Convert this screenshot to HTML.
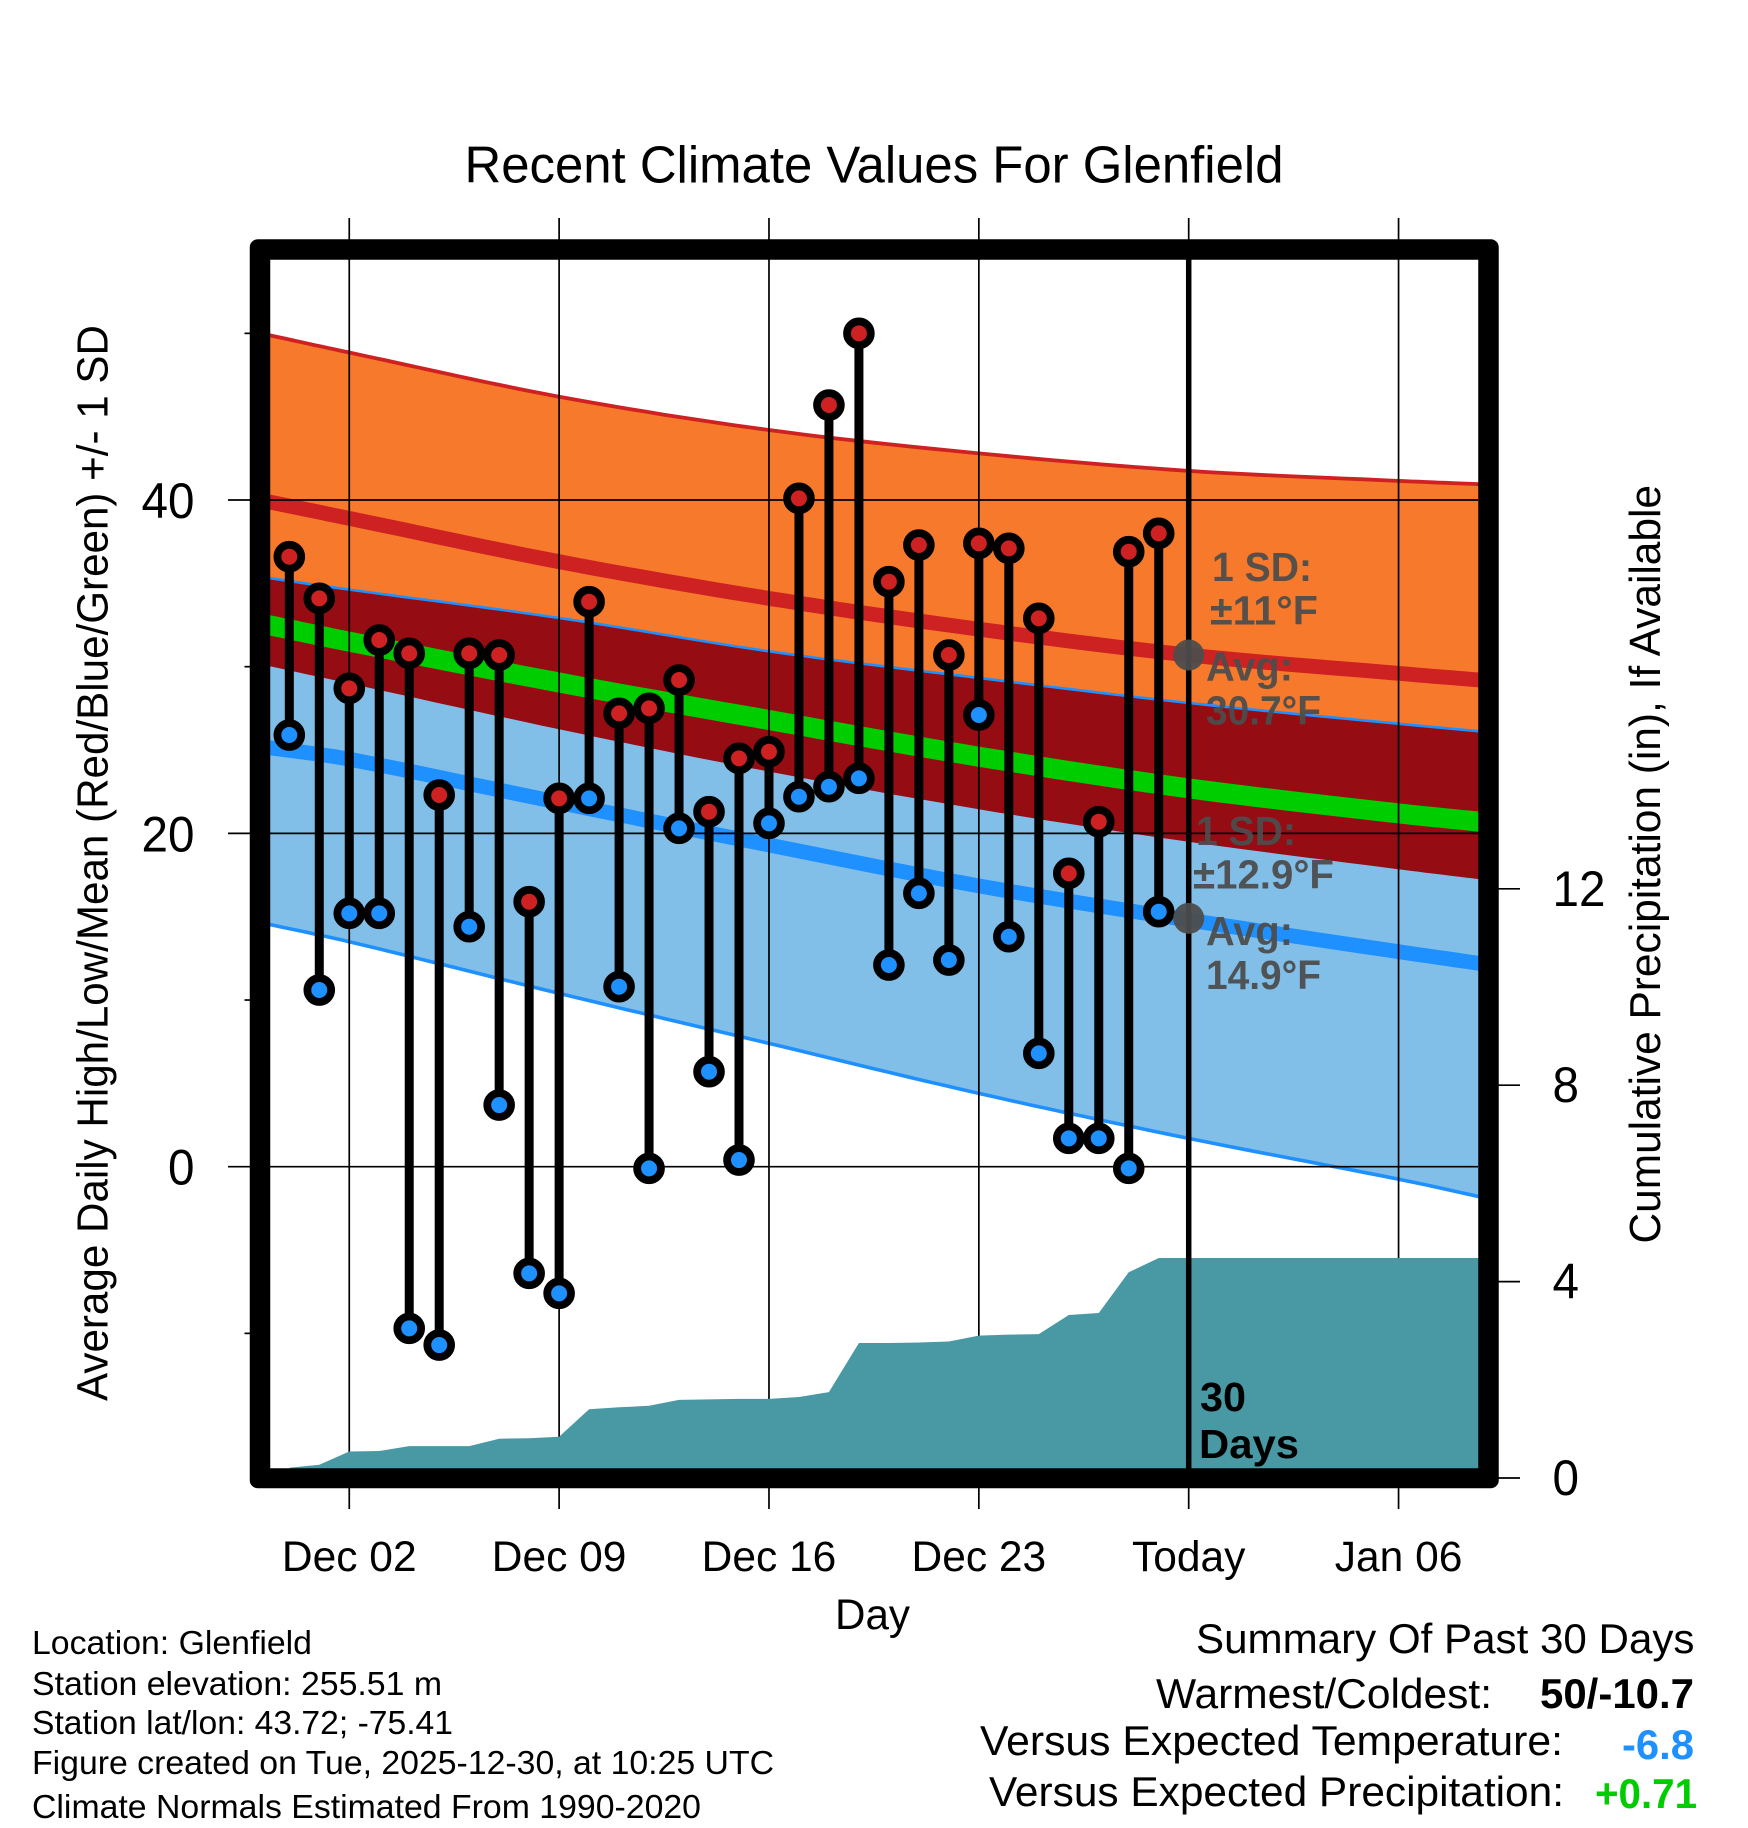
<!DOCTYPE html>
<html lang="en">
<head>
<meta charset="utf-8">
<title>Recent Climate Values For Glenfield</title>
<style>
html,body{margin:0;padding:0;background:#fff;}
svg{display:block;}
text{font-family:"Liberation Sans",Arial,sans-serif;fill:#000;}
.b{font-weight:bold;}
.g{font-weight:bold;fill:#4d4d4d;font-size:41px;fill-opacity:.94;}
</style>
</head>
<body>
<svg id="chart" xmlns="http://www.w3.org/2000/svg" width="1748" height="1828" viewBox="0 0 1748 1828">
  <rect x="0" y="0" width="1748" height="1828" fill="#fff"/>
  <g id="marks"></g>

  <path fill="#000" fill-rule="evenodd" d="M257.75,239.25 H1490.75 A8 8 0 0 1 1498.75,247.25 V1480.25 A8 8 0 0 1 1490.75,1488.25 H257.75 A8 8 0 0 1 249.75,1480.25 V247.25 A8 8 0 0 1 257.75,239.25 Z M270.25,259.75 V1468.25 H1478.25 V259.75 Z"/>

  <g id="axes"></g>

  <text x="464.5" y="182.5" font-size="52" textLength="819" lengthAdjust="spacingAndGlyphs">Recent Climate Values For Glenfield</text>
  <text transform="translate(107.5,1401) rotate(-90)" font-size="44" textLength="1076" lengthAdjust="spacingAndGlyphs">Average Daily High/Low/Mean (Red/Blue/Green) +/- 1 SD</text>
  <text transform="translate(1660,1243.5) rotate(-90)" font-size="44" textLength="758.5" lengthAdjust="spacingAndGlyphs">Cumulative Precipitation (in), If Available</text>
  <text x="835" y="1629" font-size="43" textLength="75" lengthAdjust="spacingAndGlyphs">Day</text>

  <text class="g" x="1212" y="581" textLength="100" lengthAdjust="spacingAndGlyphs">1 SD:</text>
  <text class="g" x="1210" y="624.5" textLength="108" lengthAdjust="spacingAndGlyphs">±11°F</text>
  <text class="g" x="1206" y="680.5" textLength="87" lengthAdjust="spacingAndGlyphs">Avg:</text>
  <text class="g" x="1206" y="724.5" textLength="115" lengthAdjust="spacingAndGlyphs">30.7°F</text>
  <text class="g" x="1196" y="845" textLength="100" lengthAdjust="spacingAndGlyphs">1 SD:</text>
  <text class="g" x="1193" y="888.5" textLength="141" lengthAdjust="spacingAndGlyphs">±12.9°F</text>
  <text class="g" x="1206" y="945" textLength="87" lengthAdjust="spacingAndGlyphs">Avg:</text>
  <text class="g" x="1206" y="989" textLength="115" lengthAdjust="spacingAndGlyphs">14.9°F</text>

  <text class="b" x="1200" y="1411" font-size="41" textLength="46" lengthAdjust="spacingAndGlyphs">30</text>
  <text class="b" x="1199" y="1458" font-size="41" textLength="100" lengthAdjust="spacingAndGlyphs">Days</text>

  <g font-size="33">
    <text x="32" y="1654" textLength="280" lengthAdjust="spacingAndGlyphs">Location: Glenfield</text>
    <text x="32" y="1695" textLength="410" lengthAdjust="spacingAndGlyphs">Station elevation: 255.51 m</text>
    <text x="32" y="1734" textLength="421" lengthAdjust="spacingAndGlyphs">Station lat/lon: 43.72; -75.41</text>
    <text x="32" y="1774" textLength="742" lengthAdjust="spacingAndGlyphs">Figure created on Tue, 2025-12-30, at 10:25 UTC</text>
    <text x="32" y="1818" textLength="669" lengthAdjust="spacingAndGlyphs">Climate Normals Estimated From 1990-2020</text>
  </g>

  <g font-size="42">
    <text x="1196" y="1653" textLength="498.5" lengthAdjust="spacingAndGlyphs">Summary Of Past 30 Days</text>
    <text x="1156" y="1708" textLength="336" lengthAdjust="spacingAndGlyphs">Warmest/Coldest:</text>
    <text class="b" x="1540" y="1708" textLength="154" lengthAdjust="spacingAndGlyphs">50/-10.7</text>
    <text x="980" y="1755" textLength="583" lengthAdjust="spacingAndGlyphs">Versus Expected Temperature:</text>
    <text class="b" x="1622" y="1759" textLength="72" lengthAdjust="spacingAndGlyphs" style="fill:#1e90ff">-6.8</text>
    <text x="989" y="1806" textLength="575" lengthAdjust="spacingAndGlyphs">Versus Expected Precipitation:</text>
    <text class="b" x="1595" y="1808" textLength="102" lengthAdjust="spacingAndGlyphs" style="fill:#00cd00">+0.71</text>
  </g>
</svg>

<script>
// Observed daily values, one per day starting Nov 30
const dailyHigh = [36.6,34.1,28.7,31.6,30.8,22.3,30.8,30.7,15.9,22.1,33.9,27.2,27.5,29.2,21.3,24.5,24.9,40.1,45.7,50,35.1,37.3,30.7,37.4,37.1,32.9,17.6,20.7,36.9,38];
const dailyLow = [25.9,10.6,15.2,15.2,-9.7,-10.7,14.4,3.7,-6.4,-7.6,22.1,10.8,-0.1,20.3,5.7,0.4,20.6,22.2,22.8,23.3,12.1,16.4,12.4,27.1,13.8,6.8,1.7,1.7,-0.1,15.3];
const precipValues = [0.21,0.27,0.54,0.55,0.65,0.65,0.65,0.80,0.81,0.84,1.40,1.44,1.47,1.59,1.60,1.61,1.61,1.65,1.75,2.75,2.75,2.76,2.78,2.90,2.92,2.93,3.32,3.36,4.19,4.48];
const precipFinal = 4.48;

// Climate normals sampled at these days (days since Nov 30)
const normalDays = [-0.7,2,9,16,23,30,37,39.7];
const highPlusSd = [49.9,48.85,46.2,44.2,42.8,41.75,41.15,40.95];
const highMean = [39.9,38.9,36.3,34.1,32.25,30.7,29.6,29.2];
const highMinusSd = [30.1,29.05,26.3,23.76,21.5,19.55,17.9,17.3];
const lowPlusSd = [35.3,34.6,32.9,30.9,29.3,27.8,26.55,26.1];
const lowMean = [25.15,24.45,21.85,19.3,16.85,14.8,12.9,12.2];
const lowMinusSd = [14.55,13.5,10.4,7.4,4.4,1.7,-0.75,-1.8];
const avgMean = [32.5,31.5,29.05,26.8,24.6,22.7,21.2,20.7];

// Today markers
const todayDay = 30;
const todayHigh = 30.7;
const todayLow = 14.9;

// Axis ticks
const xTickDays = [2,9,16,23,30,37];
const xTickLabels = ['Dec 02','Dec 09','Dec 16','Dec 23','Today','Jan 06'];
const yMajorTicks = [40,20,0];
const yMajorLabels = ['40','20','0'];
const yMinorTicks = [50,30,10,-10];
const y2Ticks = [12,8,4,0];
const y2Labels = ['12','8','4','0'];

const PLOT_LEFT = 289.3, DAY_PX = 29.98;
const T_ZERO = 1166.7, T_PX = 16.667;
const P_ZERO = 1478, P_PX = 49.1;
function xDay(d){return PLOT_LEFT + DAY_PX*d;}
function yTemp(v){return T_ZERO - T_PX*v;}
function yPrecip(v){return P_ZERO - P_PX*v;}

const NS = 'http://www.w3.org/2000/svg';
const marks = document.getElementById('marks');
const axes = document.getElementById('axes');
function mk(parent, tag, attrs){
  const e = document.createElementNS(NS, tag);
  for (const k in attrs) e.setAttribute(k, attrs[k]);
  parent.appendChild(e);
  return e;
}
// Smooth curve through the sampled normals (cubic Hermite between samples)
function linePts(days, vals){
  const n = days.length, tang = [], out = [];
  for (let i = 0; i < n; i++){
    const a = Math.max(i-1,0), b = Math.min(i+1,n-1);
    tang.push((vals[b]-vals[a])/(days[b]-days[a]));
  }
  for (let i = 0; i < n-1; i++){
    const h = days[i+1]-days[i];
    for (let s = 0; s < 12; s++){
      const t = s/12, t2 = t*t, t3 = t2*t;
      const v = (2*t3-3*t2+1)*vals[i] + (t3-2*t2+t)*h*tang[i] + (-2*t3+3*t2)*vals[i+1] + (t3-t2)*h*tang[i+1];
      out.push(xDay(days[i]+t*h).toFixed(1)+','+yTemp(v).toFixed(1));
    }
  }
  out.push(xDay(days[n-1]).toFixed(1)+','+yTemp(vals[n-1]).toFixed(1));
  return out;
}
function bandPts(days, top, bottom){
  return linePts(days, top).concat(linePts(days, bottom).reverse()).join(' ');
}

let el;
el = mk(marks, 'polygon', {points: bandPts(normalDays, highPlusSd, highMinusSd), fill:'#f7792b'});



el = mk(marks, 'polygon', {points: bandPts(normalDays, lowPlusSd, lowMinusSd), fill:'#82bfe8'});



el = mk(marks, 'polyline', {points: linePts(normalDays, highPlusSd).join(' '), fill:'none', stroke:'#cd2122', 'stroke-width':3.8});



el = mk(marks, 'polyline', {points: linePts(normalDays, lowPlusSd).join(' '), fill:'none', stroke:'#1e90ff', 'stroke-width':3.4});



el = mk(marks, 'polyline', {points: linePts(normalDays, lowMinusSd).join(' '), fill:'none', stroke:'#1e90ff', 'stroke-width':3.6});



el = mk(marks, 'polygon', {points: bandPts(normalDays, lowPlusSd, highMinusSd), fill:'#950c12', transform:'translate(0,0.9)'});



el = mk(marks, 'polyline', {points: linePts(normalDays, highMean).join(' '), fill:'none', stroke:'#cd2122', 'stroke-width':14.8});



el = mk(marks, 'polyline', {points: linePts(normalDays, lowMean).join(' '), fill:'none', stroke:'#1e90ff', 'stroke-width':14.8});



el = mk(marks, 'polyline', {points: linePts(normalDays, avgMean).join(' '), fill:'none', stroke:'#00cd00', 'stroke-width':20});



// Gridlines run above and below the plot as long ticks
xTickDays.forEach(function(d){
  const g = mk(marks, 'line', {x1:xDay(d), x2:xDay(d), y1:218, y2:1509, stroke:'#000', 'stroke-width':1.7});
  
  
});
yMajorTicks.forEach(function(v){
  const g = mk(marks, 'line', {x1:228, x2:1478, y1:yTemp(v), y2:yTemp(v), stroke:'#000', 'stroke-width':1.7});
  
  
});

// Cumulative precipitation area
(function(){
  const pts = ['289.3,' + P_ZERO];
  precipValues.forEach(function(v,i){ pts.push(xDay(i).toFixed(1)+','+yPrecip(v).toFixed(1)); });
  pts.push('1480,'+yPrecip(precipFinal).toFixed(1));
  pts.push('1480,'+P_ZERO);
  const a = mk(marks, 'polygon', {points: pts.join(' '), fill:'#4899a4'});
  
  
})();

// Today line
el = mk(marks, 'line', {x1:xDay(todayDay), x2:xDay(todayDay), y1:255, y2:1470, stroke:'#000', 'stroke-width':5.5});



// Daily range stems and markers
dailyHigh.forEach(function(h,i){
  const s = mk(marks, 'line', {x1:xDay(i), x2:xDay(i), y1:yTemp(h), y2:yTemp(dailyLow[i]), stroke:'#000', 'stroke-width':9});
  
  
});
dailyHigh.forEach(function(h,i){
  const c = mk(marks, 'circle', {cx:xDay(i), cy:yTemp(dailyLow[i]), r:11.9, fill:'#1e90ff', stroke:'#000', 'stroke-width':7.8});
  
  
});
dailyHigh.forEach(function(h,i){
  const c = mk(marks, 'circle', {cx:xDay(i), cy:yTemp(h), r:11.9, fill:'#cd2122', stroke:'#000', 'stroke-width':7.8});
  
  
});

// Gray markers for today's normals
el = mk(marks, 'circle', {cx:xDay(todayDay), cy:yTemp(todayHigh), r:15.5, fill:'#4d4d4d', 'fill-opacity':0.94});


el = mk(marks, 'circle', {cx:xDay(todayDay), cy:yTemp(todayLow), r:15.5, fill:'#4d4d4d', 'fill-opacity':0.94});



// Axis ticks and labels
yMinorTicks.forEach(function(v){
  const t = mk(axes, 'line', {x1:244.5, x2:252, y1:yTemp(v), y2:yTemp(v), stroke:'#000', 'stroke-width':1.7});
  
  
});
yMajorTicks.forEach(function(v,i){
  const t = mk(axes, 'text', {x:194.5, y:yTemp(v)+18, 'font-size':50, 'text-anchor':'end', textLength:yMajorLabels[i].length*26.5, lengthAdjust:'spacingAndGlyphs'});
  t.textContent = yMajorLabels[i];
  
  
});
y2Ticks.forEach(function(v,i){
  const m = mk(axes, 'line', {x1:1496, x2:1520, y1:yPrecip(v), y2:yPrecip(v), stroke:'#000', 'stroke-width':1.7});
  
  
  const t = mk(axes, 'text', {x:1552.5, y:yPrecip(v)+17, 'font-size':50, textLength:y2Labels[i].length*26.5, lengthAdjust:'spacingAndGlyphs'});
  t.textContent = y2Labels[i];
  
  
});
xTickDays.forEach(function(d,i){
  const t = mk(axes, 'text', {x:xDay(d), y:1571, 'font-size':42.5, 'text-anchor':'middle'});
  t.textContent = xTickLabels[i];
  
  
});
</script>
</body>
</html>
